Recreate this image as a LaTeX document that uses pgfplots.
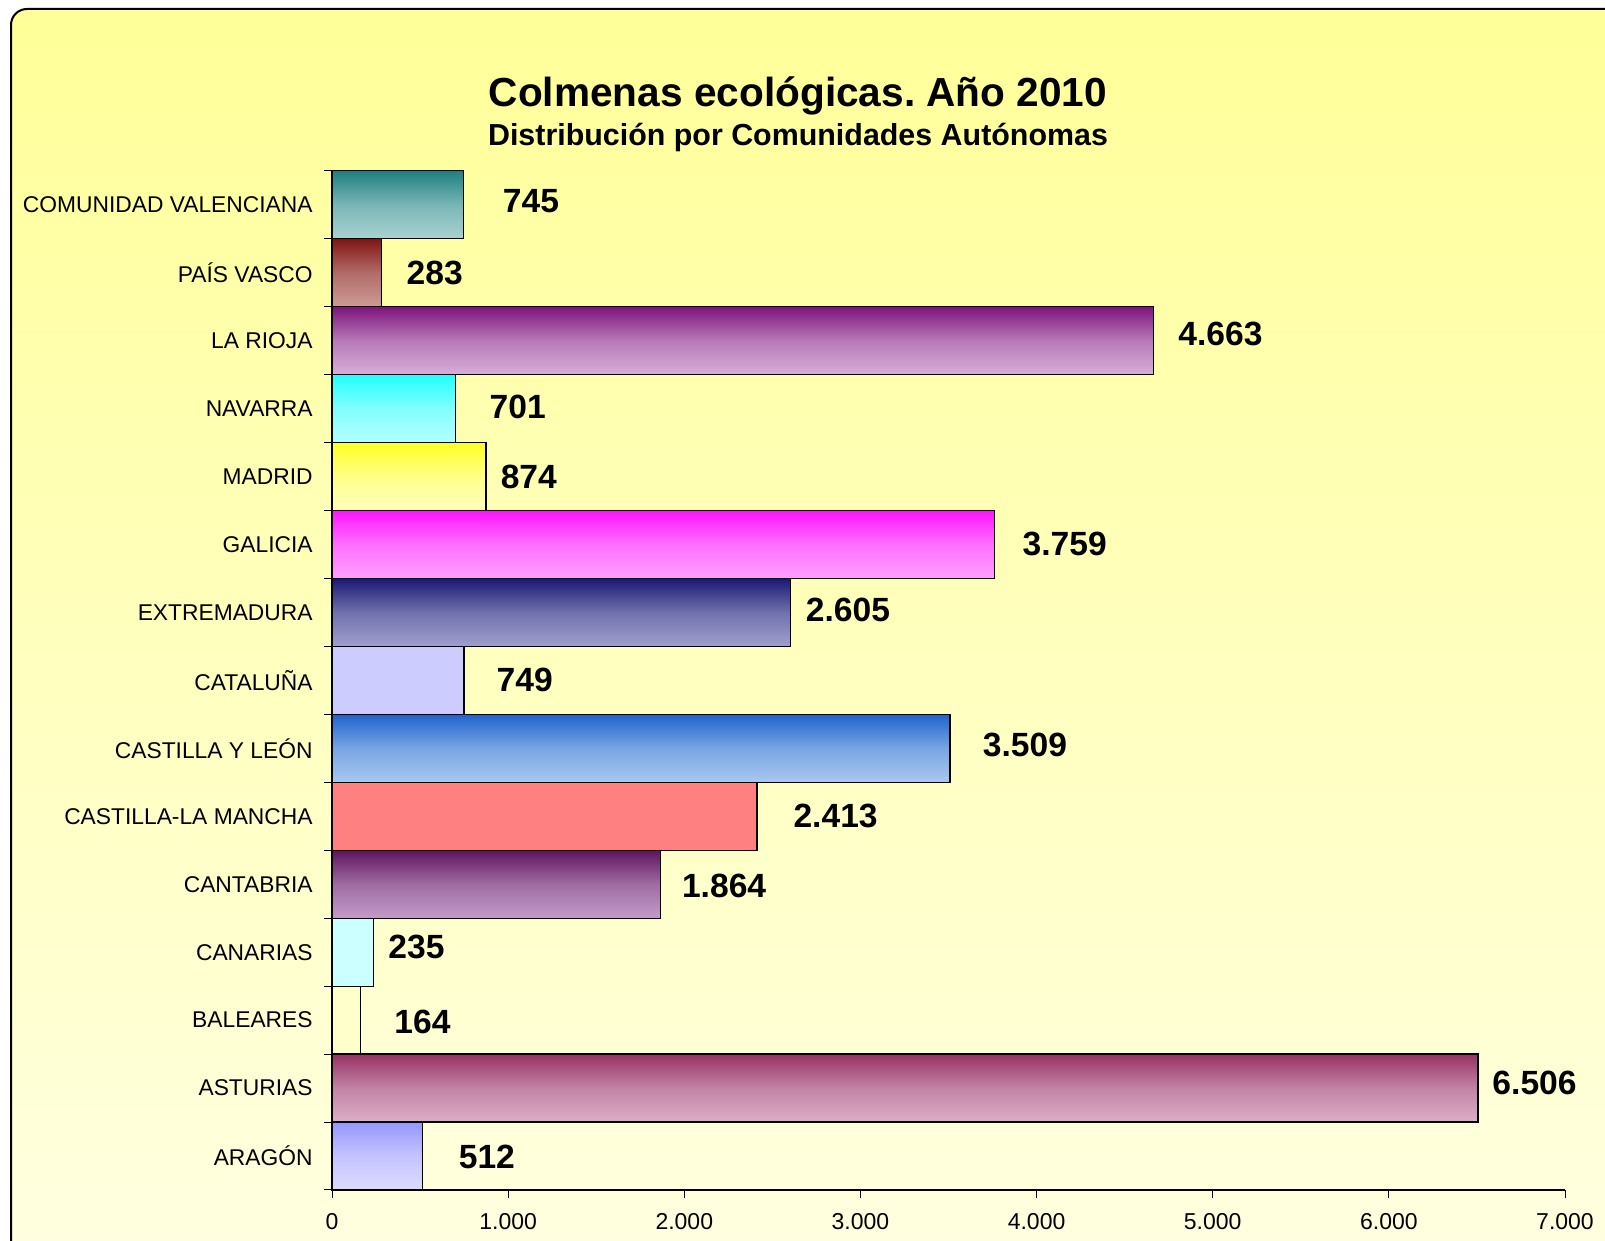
\documentclass[border=0pt]{standalone}
\usepackage{fontspec}
\setmainfont{Liberation Sans}
\usepackage{pgfplots}
\pgfplotsset{compat=1.18}
\frenchspacing
\definecolor{bgtop}{RGB}{255,255,153}
\definecolor{bgbot}{RGB}{255,255,224}
\definecolor{cvT}{RGB}{30,128,128}\definecolor{cvB}{RGB}{170,210,210}
\definecolor{pvT}{RGB}{128,20,20}\definecolor{pvB}{RGB}{205,155,150}
\definecolor{lrT}{RGB}{125,20,125}\definecolor{lrB}{RGB}{215,175,215}
\definecolor{naT}{RGB}{35,255,255}\definecolor{naB}{RGB}{180,255,255}
\definecolor{maT}{RGB}{255,255,35}\definecolor{maB}{RGB}{255,255,190}
\definecolor{gaT}{RGB}{255,20,255}\definecolor{gaB}{RGB}{255,160,255}
\definecolor{exT}{RGB}{25,25,115}\definecolor{exB}{RGB}{160,160,205}
\definecolor{ctC}{RGB}{204,204,255}
\definecolor{clT}{RGB}{30,100,205}\definecolor{clB}{RGB}{170,200,240}
\definecolor{cmC}{RGB}{255,128,128}
\definecolor{cbT}{RGB}{95,20,95}\definecolor{cbB}{RGB}{195,155,200}
\definecolor{caC}{RGB}{204,255,255}
\definecolor{baC}{RGB}{255,255,204}
\definecolor{asT}{RGB}{150,50,100}\definecolor{asB}{RGB}{220,175,200}
\definecolor{arT}{RGB}{150,150,255}\definecolor{arB}{RGB}{220,220,255}
\pgfplotsset{
  hbar/.style={xbar, bar shift=0pt, bar width=1, draw=black, line width=0.6pt},
  grad/.style 2 args={top color=#1, bottom color=#2, middle color=#2!65!#1},
}
\begin{document}
\begin{tikzpicture}[x=0.5pt,y=0.5pt]
\useasboundingbox (0,0) rectangle (1605,1241);
\begin{scope}
\clip (0,0) rectangle (1605,1241);
\draw[line width=1pt, rounded corners=8pt, top color=bgtop, bottom color=bgbot] (11,1232) rectangle (1640,-15);
\end{scope}
\node[anchor=base, inner sep=0pt, font=\bfseries\fontsize{20.3}{24}\selectfont] at (798,1134) {Colmenas ecológicas. Año 2010};
\node[anchor=base, inner sep=0pt, font=\bfseries\fontsize{15.2}{18}\selectfont] at (798,1095) {Distribución por Comunidades Autónomas};
\begin{axis}[
  at={(166pt,25.5pt)}, anchor=south west,
  scale only axis, width=616.5pt, height=509.65pt,
  xmin=0, xmax=7000, ymin=0.5, ymax=15.5,
  axis x line=bottom, axis y line=left,
  axis line style={-, line width=0.6pt, black},
  tick align=outside, major tick length=4pt,
  tick style={black, line width=0.5pt},
  xtick={0,1000,2000,3000,4000,5000,6000,7000},
  xticklabels={0,1.000,2.000,3.000,4.000,5.000,6.000,7.000},
  xticklabel style={font=\fontsize{11.5}{13}\selectfont, inner sep=0pt, yshift=-7.5pt},
  ytick={0.5,1.5,2.5,3.5,4.5,5.5,6.5,7.5,8.5,9.5,10.5,11.5,12.5,13.5,14.5,15.5},
  yticklabels={\mbox{},\mbox{},\mbox{},\mbox{},\mbox{},\mbox{},\mbox{},\mbox{},\mbox{},\mbox{},\mbox{},\mbox{},\mbox{},\mbox{},\mbox{},\mbox{}},
  extra y ticks={1,2,3,4,5,6,7,8,9,10,11,12,13,14,15},
  extra y tick labels={ARAGÓN,ASTURIAS,BALEARES,CANARIAS,CANTABRIA,CASTILLA-LA MANCHA,CASTILLA Y LEÓN,CATALUÑA,EXTREMADURA,GALICIA,MADRID,NAVARRA,LA RIOJA,PAÍS VASCO,COMUNIDAD VALENCIANA},
  extra y tick style={major tick length=0pt, yticklabel style={font=\fontsize{11.4}{13}\selectfont, inner sep=0pt, anchor=east, xshift=-9.5pt}},
  clip=false,
]
\addplot[hbar, grad={arT}{arB}] coordinates {(512,1)};
\addplot[hbar, grad={asT}{asB}] coordinates {(6506,2)};
\addplot[hbar, fill=baC] coordinates {(164,3)};
\addplot[hbar, fill=caC] coordinates {(235,4)};
\addplot[hbar, grad={cbT}{cbB}] coordinates {(1864,5)};
\addplot[hbar, fill=cmC] coordinates {(2413,6)};
\addplot[hbar, grad={clT}{clB}] coordinates {(3509,7)};
\addplot[hbar, fill=ctC] coordinates {(749,8)};
\addplot[hbar, grad={exT}{exB}] coordinates {(2605,9)};
\addplot[hbar, grad={gaT}{gaB}] coordinates {(3759,10)};
\addplot[hbar, grad={maT}{maB}] coordinates {(874,11)};
\addplot[hbar, grad={naT}{naB}] coordinates {(701,12)};
\addplot[hbar, grad={lrT}{lrB}] coordinates {(4663,13)};
\addplot[hbar, grad={pvT}{pvB}] coordinates {(283,14)};
\addplot[hbar, grad={cvT}{cvB}] coordinates {(745,15)};
\addplot[draw=none, mark=none, nodes near coords, point meta=explicit symbolic,
  nodes near coords style={anchor=west, inner sep=0pt, black, font=\bfseries\fontsize{16.8}{20}\selectfont}]
  table[meta=lab] {
x y lab
718 0.98 512
6586 2.08 6.506
352 2.97 164
318 4.08 235
1985 4.97 1.864
2618 6.0 2.413
3693 7.05 3.509
933 8.0 749
2688 9.03 2.605
3919 10.0 3.759
956 11.0 874
893 12.03 701
4803 13.09 4.663
422 14.0 283
968 15.05 745
};
\end{axis}
\end{tikzpicture}
\end{document}
